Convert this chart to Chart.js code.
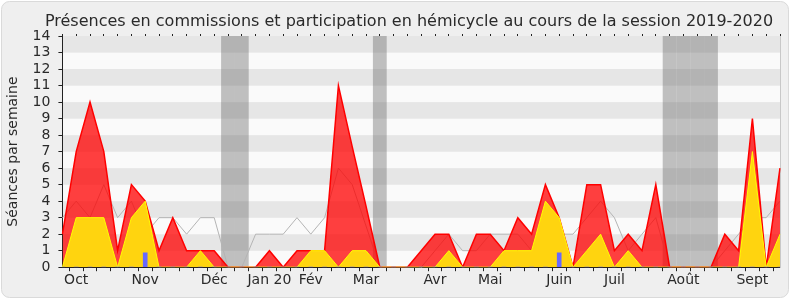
<!DOCTYPE html>
<html>
<head>
<meta charset="utf-8">
<script src="https://cdn.jsdelivr.net/npm/chart.js@4/dist/chart.umd.min.js"></script>
<style>
html,body{margin:0;padding:0;background:#fff;}
#wrap{width:790px;height:300px;position:relative;}
</style>
</head>
<body>
<div id="wrap"><canvas id="c" width="790" height="300"></canvas></div>
<script>
// ---- data ----
const weekLabels = ['', 'Oct', '', '', '', '', 'Nov', '', '', '', '', 'Déc', '', '', '', 'Jan 20', '', '', 'Fév', '', '', '', 'Mar', '', '', '', '', 'Avr', '', '', '', 'Mai', '', '', '', '', 'Juin', '', '', '', 'Juil', '', '', '', '', 'Août', '', '', '', '', 'Sept', '', ''];
const presencesCommission = [2, 7, 10, 7, 1, 5, 4, 1, 3, 1, 1, 1, 0, 0, 0, 1, 0, 1, 1, 1, 11, 7.3, 3.7, 0, 0, 0, 1, 2, 2, 0, 2, 2, 1, 3, 2, 5, 3, 0, 5, 5, 1, 2, 1, 5, 0, 0, 0, 0, 2, 1, 9, 0, 6];
const participationHemicycle = [0, 3, 3, 3, 0, 3, 4, 0, 0, 0, 1, 0, 0, 0, 0, 0, 0, 0, 1, 1, 0, 1, 1, 0, 0, 0, 0, 0, 1, 0, 0, 0, 1, 1, 1, 4, 3, 0, 1, 2, 0, 1, 0, 0, 0, 0, 0, 0, 0, 0, 7, 0, 2];
const medianeDeputes = [3, 4, 3, 5, 3, 4, 2, 3, 3, 2, 3, 3, 0, 0, 2, 2, 2, 3, 2, 3, 6, 5, 2.5, 0, 0, 0, 0, 1, 2, 1, 1, 2, 2, 2, 1, 2, 2, 2, 3, 4, 3, 1, 2, 3, 0, 0, 0, 0, 1, 2, 3, 3, 4];
const questionsOrales = [0, 0, 0, 0, 0, 0, 0.87, 0, 0, 0, 0, 0, 0, 0, 0, 0, 0, 0, 0, 0, 0, 0, 0, 0, 0, 0, 0, 0, 0, 0, 0, 0, 0, 0, 0, 0, 0.87, 0, 0, 0, 0, 0, 0, 0, 0, 0, 0, 0, 0, 0, 0, 0, 0];
const vacationWeeks = [12, 13, 23, 44, 45, 46, 47];
const yMax = 14;

const vacationData = weekLabels.map((_, i) => vacationWeeks.includes(i) ? yMax : null);

const bgPlugin = {
  id: 'bgPlugin',
  afterLayout(chart) {
    // title is centred a little right of the canvas centre in the reference
    if (chart.titleBlock) { chart.titleBlock.left += 36; }
  },
  beforeDraw(chart) {
    const ctx = chart.ctx;
    ctx.save();
    ctx.fillStyle = '#ffffff';
    ctx.fillRect(0, 0, chart.width, chart.height);
    ctx.beginPath();
    ctx.roundRect(1.5, 1.5, chart.width - 3, chart.height - 4, 8);
    ctx.fillStyle = '#efefef';
    ctx.fill();
    ctx.strokeStyle = '#dadada';
    ctx.lineWidth = 1;
    ctx.stroke();
    const a = chart.chartArea, y = chart.scales.y;
    for (let v = 0; v < yMax; v++) {
      const top = y.getPixelForValue(v + 1), bot = y.getPixelForValue(v);
      ctx.fillStyle = (v % 2 === 1) ? '#e6e6e6' : '#fafafa';
      ctx.fillRect(a.left, top, a.right - a.left, bot - top);
    }
    ctx.restore();
  }
};

const FONT = 'DejaVu Sans';
new Chart(document.getElementById('c'), {
  type: 'line',
  data: {
    labels: weekLabels,
    datasets: [
      {
        type: 'bar', label: 'Questions orales', data: questionsOrales,
        backgroundColor: '#6868ff', barThickness: 4, grouped: false, order: 0
      },
      {
        label: 'Participation hémicycle', data: participationHemicycle,
        borderColor: '#ffff00', borderWidth: 1, backgroundColor: '#ffd40f',
        fill: 'origin', pointRadius: 0, tension: 0, order: 1
      },
      {
        label: 'Présences commission', data: presencesCommission,
        borderColor: '#ff0000', borderWidth: 1.5, backgroundColor: 'rgba(255,0,0,0.75)',
        fill: 'origin', pointRadius: 0, tension: 0, order: 2
      },
      {
        label: 'Médiane', data: medianeDeputes,
        borderColor: '#b4b4b4', borderWidth: 1, fill: false,
        pointRadius: 0, tension: 0, order: 3
      },
      {
        type: 'bar', label: 'Vacances', data: vacationData,
        backgroundColor: 'rgba(110,110,110,0.42)', barPercentage: 1, categoryPercentage: 1,
        inflateAmount: 0, borderWidth: 0, grouped: false, order: 4
      }
    ]
  },
  options: {
    responsive: false,
    animation: false,
    layout: { padding: { left: 2, right: 10, top: 4, bottom: 10 } },
    plugins: {
      legend: { display: false },
      tooltip: { enabled: false },
      title: {
        display: true,
        text: 'Présences en commissions et participation en hémicycle au cours de la session 2019-2020',
        color: '#2a2a2a', font: { family: FONT, size: 16, weight: 'normal' },
        padding: { top: 8, bottom: 2.8 }
      }
    },
    scales: {
      x: {
        type: 'category', offset: false,
        grid: { display: true, drawOnChartArea: false, drawTicks: true, tickLength: 4, color: '#222' },
        border: { display: true, color: '#222', width: 1 },
        ticks: { autoSkip: false, maxRotation: 0, minRotation: 0, padding: 1, color: '#2a2a2a', font: { family: FONT, size: 14 } }
      },
      x2: {
        type: 'category', position: 'top', offset: false, labels: weekLabels,
        grid: { display: true, drawOnChartArea: false, drawTicks: true, tickLength: 2, color: '#222' },
        border: { display: false },
        ticks: { display: false }
      },
      y: {
        min: 0, max: yMax,
        grid: { display: true, drawOnChartArea: false, drawTicks: true, tickLength: 4, color: '#222' },
        border: { display: true, color: '#222', width: 1 },
        ticks: { stepSize: 1, autoSkip: false, padding: 8, color: '#2a2a2a', font: { family: FONT, size: 14 } },
        title: { display: true, text: 'Séances par semaine', color: '#2a2a2a', font: { family: FONT, size: 14 }, padding: { top: 2.6, bottom: 3.2 } }
      },
      y2: {
        position: 'right', min: 0, max: yMax,
        grid: { display: true, drawOnChartArea: false, drawTicks: false },
        border: { display: true, color: '#c8c8c8', width: 1 },
        ticks: { display: false }
      }
    }
  },
  plugins: [bgPlugin]
});
</script>
</body>
</html>
